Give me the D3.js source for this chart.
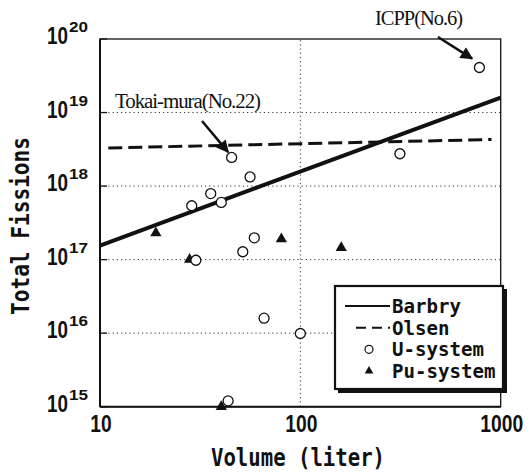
<!DOCTYPE html>
<html>
<head>
<meta charset="utf-8">
<script src="https://cdn.jsdelivr.net/npm/d3@7.9.0/dist/d3.min.js"></script>
<style>
  body { margin: 0; background: #fff; }
  svg { display: block; }
</style>
</head>
<body>
<svg id="chart" width="530" height="472"></svg>
<script>
// volumes in liter, total fissions
const uVolume = [783, 45.4, 28.7, 35.7, 40.3, 56.1, 314, 58.9, 51.6, 30.1, 65.9, 100, 43.6];
const uFissions = [4.1e19, 2.45e18, 5.4e17, 7.9e17, 6.0e17, 1.33e18, 2.75e18, 1.98e17, 1.28e17, 9.8e16, 1.6e16, 9.9e15, 1.2e15];
const puVolume = [19.0, 80.4, 160, 28.0, 40.3];
const puFissions = [2.3e17, 1.9e17, 1.45e17, 1.0e17, 1.0e15];
const barbryVolume = [10, 1000];
const barbryFissions = [1.55e17, 1.6e19];
const olsenVolume = [11, 900];
const olsenFissions = [3.3e18, 4.3e18];
const yTickExp = [15, 16, 17, 18, 19, 20];
const xTicks = [10, 100, 1000];
const legendLabels = ["Barbry", "Olsen", "U-system", "Pu-system"];

const svg = d3.select('#chart');

const x = d3.scaleLog().domain([10, 1000]).range([100, 500.7]);
const y = d3.scaleLog().domain([1e15, 1e20]).range([406.7, 39]);

const tickFont = "'Liberation Sans', Arial, sans-serif";
const monoFont = "'DejaVu Sans Mono', monospace";
const serifFont = "'Liberation Serif', 'Times New Roman', serif";

// grid
svg.append('g')
    .selectAll('line')
    .data(yTickExp.slice(1, -1))
    .join('line')
    .attr('x1', x(10)).attr('x2', x(1000))
    .attr('y1', d => y(Math.pow(10, d))).attr('y2', d => y(Math.pow(10, d)))
    .attr('stroke', '#333').attr('stroke-width', 1).attr('stroke-dasharray', '1.2,3');

svg.append('line')
    .attr('x1', x(100)).attr('x2', x(100))
    .attr('y1', y(1e15)).attr('y2', y(1e20))
    .attr('stroke', '#333').attr('stroke-width', 1).attr('stroke-dasharray', '1.2,3');

// frame
svg.append('rect')
    .attr('x', x(10)).attr('y', y(1e20))
    .attr('width', x(1000) - x(10)).attr('height', y(1e15) - y(1e20))
    .attr('fill', 'none').attr('stroke', '#111').attr('stroke-width', 1.3);
svg.append('line')
    .attr('x1', x(10)).attr('x2', x(10)).attr('y1', y(1e20)).attr('y2', y(1e15))
    .attr('stroke', '#111').attr('stroke-width', 2);
svg.append('line')
    .attr('x1', x(10)).attr('x2', x(1000)).attr('y1', y(1e15)).attr('y2', y(1e15))
    .attr('stroke', '#111').attr('stroke-width', 2);

// inner ticks
svg.append('g')
    .selectAll('line')
    .data(yTickExp)
    .join('line')
    .attr('x1', x(10)).attr('x2', x(10) + 7)
    .attr('y1', d => y(Math.pow(10, d))).attr('y2', d => y(Math.pow(10, d)))
    .attr('stroke', '#111').attr('stroke-width', 1.3);

// y tick labels: base and exponent as separate texts
const yLab = svg.append('g')
    .selectAll('g')
    .data(yTickExp)
    .join('g')
    .attr('transform', d => `translate(0,${y(Math.pow(10, d))})`)
    .attr('font-family', tickFont)
    .attr('font-weight', 'bold')
    .attr('fill', '#111');
yLab.append('text')
    .attr('x', 47).attr('y', 5)
    .attr('font-size', 23)
    .attr('textLength', 21)
    .attr('lengthAdjust', 'spacingAndGlyphs')
    .text('10');
yLab.append('text')
    .attr('x', 69).attr('y', -7)
    .attr('font-size', 15)
    .attr('textLength', 19)
    .attr('lengthAdjust', 'spacingAndGlyphs')
    .text(d => d);

// x tick labels
svg.append('g')
    .selectAll('text')
    .data(xTicks)
    .join('text')
    .attr('x', d => x(d) + 1)
    .attr('y', 432)
    .attr('text-anchor', 'middle')
    .attr('font-family', tickFont)
    .attr('font-weight', 'bold')
    .attr('font-size', 23)
    .attr('textLength', d => String(d).length * 10.7)
    .attr('lengthAdjust', 'spacingAndGlyphs')
    .attr('fill', '#111')
    .text(d => d);

// axis titles
svg.append('text')
    .attr('x', 298).attr('y', 466)
    .attr('text-anchor', 'middle')
    .attr('font-family', monoFont)
    .attr('font-weight', 'bold')
    .attr('font-size', 24)
    .attr('textLength', 174)
    .attr('lengthAdjust', 'spacingAndGlyphs')
    .attr('fill', '#111')
    .text('Volume (liter)');

svg.append('text')
    .attr('transform', 'translate(29,226) rotate(-90)')
    .attr('text-anchor', 'middle')
    .attr('font-family', monoFont)
    .attr('font-weight', 'bold')
    .attr('font-size', 24)
    .attr('textLength', 178)
    .attr('lengthAdjust', 'spacingAndGlyphs')
    .attr('fill', '#111')
    .text('Total Fissions');

// fit lines
const line = d3.line().x(d => x(d[0])).y(d => y(d[1]));

svg.append('path')
    .attr('d', line(d3.zip(olsenVolume, olsenFissions)))
    .attr('fill', 'none').attr('stroke', '#111')
    .attr('stroke-width', 3).attr('stroke-dasharray', '14,6');

svg.append('path')
    .attr('d', line(d3.zip(barbryVolume, barbryFissions)))
    .attr('fill', 'none').attr('stroke', '#111')
    .attr('stroke-width', 4);

// points
const tri = d3.symbol(d3.symbolTriangle).size(55);

svg.append('g')
    .selectAll('path')
    .data(d3.zip(puVolume, puFissions))
    .join('path')
    .attr('transform', d => `translate(${x(d[0])},${y(d[1])})`)
    .attr('d', tri)
    .attr('fill', '#111');

svg.append('g')
    .selectAll('circle')
    .data(d3.zip(uVolume, uFissions))
    .join('circle')
    .attr('cx', d => x(d[0]))
    .attr('cy', d => y(d[1]))
    .attr('r', 5)
    .attr('fill', '#fff')
    .attr('stroke', '#111')
    .attr('stroke-width', 1.3);

// annotations
svg.append('defs').append('marker')
    .attr('id', 'head')
    .attr('viewBox', '0 0 10 10')
    .attr('refX', 9).attr('refY', 5)
    .attr('markerWidth', 6).attr('markerHeight', 5)
    .attr('markerUnits', 'strokeWidth')
    .attr('orient', 'auto')
    .append('path')
    .attr('d', 'M0,0L10,5L0,10Z')
    .attr('fill', '#111');

function note(label, tx, ty, len, from, to) {
    svg.append('text')
        .attr('x', tx).attr('y', ty)
        .attr('font-family', serifFont)
        .attr('font-size', 20)
        .attr('textLength', len)
        .attr('lengthAdjust', 'spacingAndGlyphs')
        .attr('letter-spacing', -1)
        .attr('fill', '#111')
        .text(label);
    svg.append('line')
        .attr('x1', from[0]).attr('y1', from[1])
        .attr('x2', to[0]).attr('y2', to[1])
        .attr('stroke', '#111').attr('stroke-width', 2.5)
        .attr('marker-end', 'url(#head)');
}

note('Tokai-mura(No.22)', 115, 108, 145, [202, 121], [x(43.6), y(2.9e18)]);
note('ICPP(No.6)', 375, 25, 87, [438, 37], [x(720), y(5.4e19)]);

// legend
const lg = svg.append('g');
lg.append('rect')
    .attr('x', 338).attr('y', 289).attr('width', 169).attr('height', 104)
    .attr('fill', '#111');
lg.append('rect')
    .attr('x', 335).attr('y', 286).attr('width', 168).attr('height', 103)
    .attr('fill', '#fff').attr('stroke', '#111').attr('stroke-width', 2.2);

const rowY = d3.scalePoint().domain(legendLabels).range([306, 371]);

lg.append('line')
    .attr('x1', 345).attr('x2', 390)
    .attr('y1', rowY('Barbry')).attr('y2', rowY('Barbry'))
    .attr('stroke', '#111').attr('stroke-width', 2);
lg.append('line')
    .attr('x1', 356).attr('x2', 390)
    .attr('y1', rowY('Olsen')).attr('y2', rowY('Olsen'))
    .attr('stroke', '#111').attr('stroke-width', 2).attr('stroke-dasharray', '10,6');
lg.append('circle')
    .attr('cx', 369).attr('cy', rowY('U-system')).attr('r', 4)
    .attr('fill', '#fff').attr('stroke', '#111').attr('stroke-width', 1.2);
lg.append('path')
    .attr('transform', `translate(369,${rowY('Pu-system')})`)
    .attr('d', d3.symbol(d3.symbolTriangle).size(32))
    .attr('fill', '#111');

lg.selectAll('text')
    .data(legendLabels)
    .join('text')
    .attr('x', 392)
    .attr('y', d => rowY(d) + 7)
    .attr('font-family', monoFont)
    .attr('font-weight', 'bold')
    .attr('font-size', 19)
    .attr('textLength', d => d.length * 11.5)
    .attr('lengthAdjust', 'spacingAndGlyphs')
    .attr('fill', '#111')
    .text(d => d);
</script>
</body>
</html>
